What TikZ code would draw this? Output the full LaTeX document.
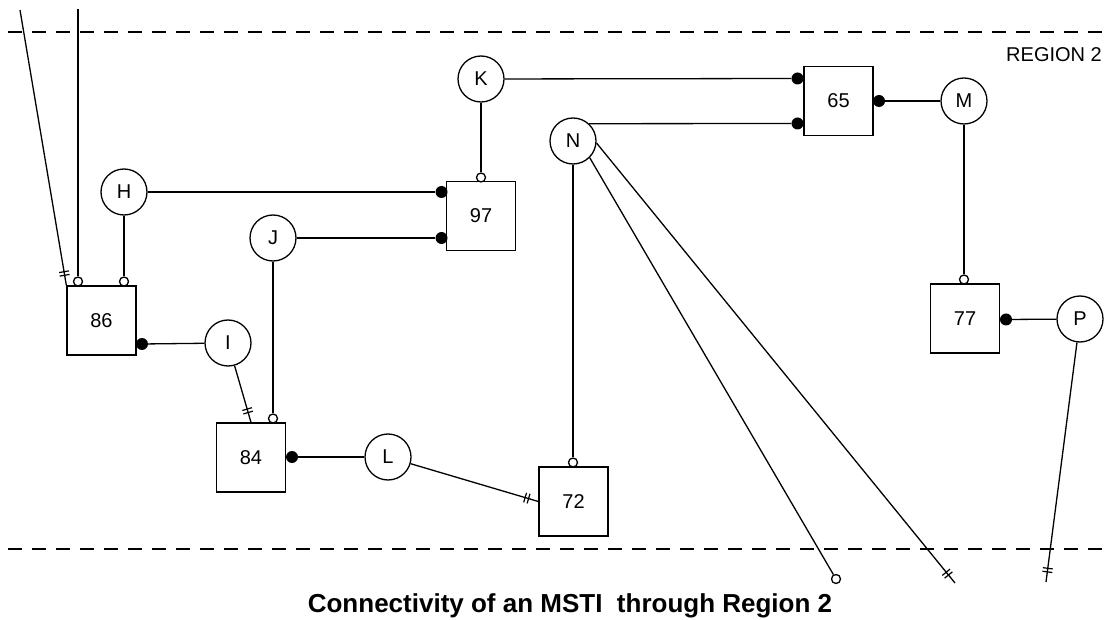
\documentclass[tikz,border=0pt]{standalone}
\usepackage{fontspec}
\setmainfont{Liberation Sans}
\usetikzlibrary{decorations.markings}

\tikzset{
  box/.style={draw,line width=1.3pt,minimum size=69pt,inner sep=0pt,font=\fontsize{20}{24}\selectfont},
  port/.style={draw,circle,line width=1.3pt,minimum size=46pt,inner sep=0pt,font=\fontsize{20}{24}\selectfont},
  hollow/.style={draw,circle,fill=white,line width=1.3pt,minimum size=9pt,inner sep=0pt},
  blob/.style={circle,fill=black,minimum size=12pt,inner sep=0pt},
  link/.style={line width=1.3pt},
  border/.style={line width=1.4pt,dash pattern=on 14pt off 10pt},
  dtick/.style={postaction={decorate,decoration={markings,
      mark=at position -12pt with {\draw[line width=1.2pt] (-1.8pt,-5pt) -- (-1.8pt,5pt) (1.8pt,-5pt) -- (1.8pt,5pt);}}}}
}

\begin{document}
\begin{tikzpicture}[x=1pt,y=-1pt]
                    \useasboundingbox (0,0) rectangle (1106,620);
                    \draw[border] (8,32) -- (1106,32);
                    \draw[border] (8,549) -- (1106,549);
                    \node[anchor=base east,inner sep=0pt,font=\fontsize{20}{24}\selectfont] (reg) at (1102,62) {REGION 2};
                    \node[anchor=base,font=\bfseries\fontsize{26}{30}\selectfont] (title) at (570,612) {Connectivity of an MSTI\ \ through Region 2};

                    \node[box] (b86) at (101.5,320.5) {86};
                    \node[box] (b97) at (481,216) {97};
                    \node[box] (b84) at (251,457.5) {84};
                    \node[box] (b72) at (573.5,501.5) {72};
                    \node[box] (b65) at (838.5,101) {65};
                    \node[box] (b77) at (965,318.5) {77};

                    \node[port] (H) at (124,192) {H};
                    \node[port] (I) at (228,343) {I};
                    \node[port] (J) at (273,238) {J};
                    \node[port] (K) at (481,79) {K};
                    \node[port] (L) at (388,457) {L};
                    \node[port] (M) at (964,101) {M};
                    \node[port] (N) at (573,141) {N};
                    \node[port] (P) at (1080,319) {P};

                    \node[hollow] (o86a) at (78,281.5) {};
                    \node[hollow] (o86b) at (124,281.5) {};
                    \node[hollow] (o97) at (481,177.5) {};
                    \node[hollow] (o84) at (273,418.5) {};
                    \node[hollow] (o72) at (573,462.5) {};
                    \node[hollow] (o77) at (964,279.5) {};
                    \node[hollow] (oN) at (836,579) {};

                    \node[blob] (s86) at (142,344) {};
                    \node[blob] (s84) at (292,457) {};
                    \node[blob] (s97a) at (441.5,192) {};
                    \node[blob] (s97b) at (441.5,238) {};
                    \node[blob] (s65a) at (797.5,78.5) {};
                    \node[blob] (s65b) at (797.5,123.5) {};
                    \node[blob] (s65c) at (879,101) {};
                    \node[blob] (s77) at (1006,319.5) {};

                    \coordinate (t1) at (20,10);
                    \coordinate (t2) at (78,9);
                    \coordinate (e2) at (955,583);
                    \coordinate (e3) at (1046,582);

                    \draw[link,dtick] (t1) -- (b86.north west);
                    \draw[link] (t2) -- (o86a);
                    \draw[link] (H) -- (o86b);
                    \draw[link] (H) -- (s97a);
                    \draw[link] (J) -- (s97b);
                    \draw[link] (K) -- (o97);
                    \draw[link] (s86) -- (I);
                    \draw[link,dtick] (I) -- (b84.north);
                    \draw[link] (J) -- (o84);
                    \draw[link] (s84) -- (L);
                    \draw[link,dtick] (L) -- (b72.west);
                    \draw[link] (N) -- (o72);
                    \draw[link] (K) -- (s65a);
                    \draw[link] (N.47) -- (s65b);
                    \draw[link] (s65c) -- (M);
                    \draw[link] (M) -- (o77);
                    \draw[link] (s77) -- (P);
                    \draw[link] (N.-45) -- (oN);
                    \draw[link,dtick] (N.-5) -- (e2);
                    \draw[link,dtick] (P) -- (e3);
                \end{tikzpicture}
\end{document}
